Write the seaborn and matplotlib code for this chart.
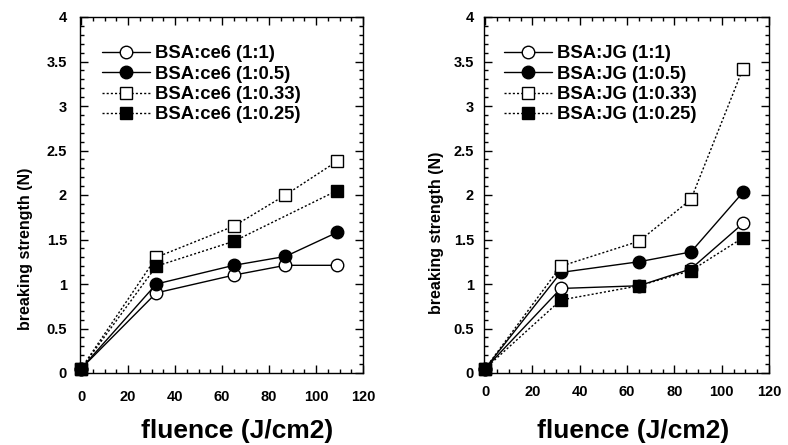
import matplotlib
matplotlib.use("Agg")
import matplotlib.pyplot as plt
from matplotlib.ticker import MultipleLocator, FormatStrFormatter
import seaborn as sns
import numpy as np

# ---- data ----
fluence = [0, 32, 65, 87, 109]
fluence_ce6_025 = [0, 32, 65, 109]

ce6_1_1 = [0.05, 0.90, 1.10, 1.21, 1.21]
ce6_1_05 = [0.05, 1.00, 1.21, 1.31, 1.58]
ce6_1_033 = [0.05, 1.30, 1.65, 2.00, 2.38]
ce6_1_025 = [0.05, 1.20, 1.48, 2.05]

jg_1_1 = [0.05, 0.95, 0.98, 1.17, 1.68]
jg_1_05 = [0.05, 1.13, 1.25, 1.36, 2.03]
jg_1_033 = [0.05, 1.20, 1.48, 1.95, 3.42]
jg_1_025 = [0.05, 0.82, 0.98, 1.15, 1.52]

labels_ce6 = ["BSA:ce6 (1:1)", "BSA:ce6 (1:0.5)", "BSA:ce6 (1:0.33)", "BSA:ce6 (1:0.25)"]
labels_jg = ["BSA:JG (1:1)", "BSA:JG (1:0.5)", "BSA:JG (1:0.33)", "BSA:JG (1:0.25)"]

x_ticks = [0, 20, 40, 60, 80, 100, 120]
y_ticks = [0, 0.5, 1, 1.5, 2, 2.5, 3, 3.5, 4]

sns.set_style("ticks")
plt.rcParams["font.family"] = ["Liberation Sans", "DejaVu Sans"]
plt.rcParams["font.weight"] = "bold"
for k in ["text.color", "axes.labelcolor", "xtick.color", "ytick.color", "axes.edgecolor"]:
    plt.rcParams[k] = "black"

fig = plt.figure(figsize=(7.88, 4.45), dpi=100)
W, H = 788, 445
ax1 = fig.add_axes([80 / W, 1 - 373 / H, 283 / W, 356 / H])
ax2 = fig.add_axes([484 / W, 1 - 373 / H, 285 / W, 356 / H])

dot = (0, (1.5, 1.5))
styles = [
    dict(marker="o", markerfacecolor="white", linestyle="-"),
    dict(marker="o", markerfacecolor="black", linestyle="-"),
    dict(marker="s", markerfacecolor="white", linestyle=dot),
    dict(marker="s", markerfacecolor="black", linestyle=dot),
]


def draw(ax, xs_list, ys_list, labels):
    for xs, ys, lab, st in zip(xs_list, ys_list, labels, styles):
        sns.lineplot(x=xs, y=ys, ax=ax, color="black", linewidth=1.0,
                     markersize=9, markeredgecolor="black", markeredgewidth=1.0,
                     clip_on=False, sort=False, errorbar=None, label=lab, **st)


draw(ax1, [fluence, fluence, fluence, fluence_ce6_025],
     [ce6_1_1, ce6_1_05, ce6_1_033, ce6_1_025], labels_ce6)
draw(ax2, [fluence] * 4, [jg_1_1, jg_1_05, jg_1_033, jg_1_025], labels_jg)

panels = [
    # ax, ylabel right edge x, ylabel center y, legend x, axes width, ypad, xpad, xlabel x
    (ax1, 33, 249, 0.078, 283, 9.4, 12.0, 0.555),
    (ax2, 444, 233, 0.07, 285, 7.2, 9.0, 0.523),
]
for ax, lx, ly, legx, aw, ypad, xpad, xlx in panels:
    ax.set_xlim(-0.5, 119.5)
    ax.set_ylim(0, 4)
    ax.set_xticks(x_ticks)
    ax.set_yticks(y_ticks)
    ax.yaxis.set_major_formatter(FormatStrFormatter("%g"))
    ax.xaxis.set_minor_locator(MultipleLocator(5))
    ax.yaxis.set_minor_locator(MultipleLocator(0.1))
    ax.tick_params(which="both", direction="in", top=True, right=True,
                   width=1.0, colors="black")
    ax.tick_params(which="major", length=6, labelsize=10.5)
    ax.tick_params(axis="y", which="major", pad=ypad)
    ax.tick_params(axis="x", which="major", pad=xpad)
    ax.tick_params(which="minor", length=3)
    for lab in ax.get_xticklabels() + ax.get_yticklabels():
        lab.set_fontweight("bold")
    for sp in ax.spines.values():
        sp.set_linewidth(1.0)
        sp.set_color("black")
    ax.set_xlabel("fluence (J/cm2)", fontsize=19, fontweight="bold")
    ax.xaxis.set_label_coords(xlx, -0.128)
    ax.set_ylabel("breaking strength (N)", fontsize=11.5, fontweight="bold")
    x0 = ax.get_position().x0 * W
    ax.yaxis.set_label_coords((lx - x0) / aw, (373 - ly) / 356)
    leg = ax.legend(loc="upper left", bbox_to_anchor=(legx, 0.92), frameon=False,
                    fontsize=13.3, handlelength=2.6, handletextpad=0.25,
                    labelspacing=0.18, borderaxespad=0, borderpad=0)
    for t in leg.get_texts():
        t.set_fontweight("bold")

fig.savefig("out.png", dpi=100)
